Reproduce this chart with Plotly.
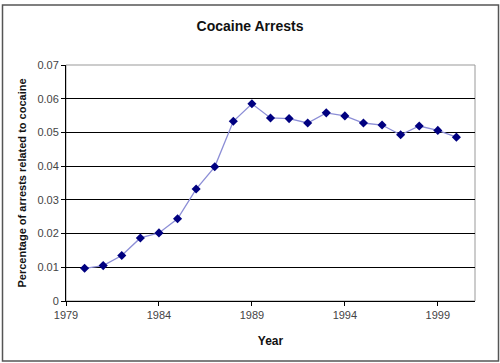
import plotly.graph_objects as go

years = [1980, 1981, 1982, 1983, 1984, 1985, 1986, 1987, 1988, 1989, 1990,
         1991, 1992, 1993, 1994, 1995, 1996, 1997, 1998, 1999, 2000]
share = [0.0097, 0.0105, 0.0135, 0.0187, 0.0202, 0.0244, 0.0332, 0.0398, 0.0533, 0.0585, 0.0543,
         0.0541, 0.0528, 0.0558, 0.0549, 0.0528, 0.0522, 0.0493, 0.0519, 0.0506, 0.0486]
x_ticks = [1979, 1984, 1989, 1994, 1999]

L, R, T, B = 66, 25, 65, 62
W, H = 500, 363
pw, ph = W - L - R, H - T - B

def px(x):
    return (x - L) / pw

def py(y):
    return (H - B - y) / ph

fig = go.Figure()
fig.add_trace(go.Scatter(
    x=years, y=share, mode="lines+markers",
    line=dict(color="#8c8ed6", width=1.3),
    marker=dict(symbol="diamond", size=7, color="#000080"),
    showlegend=False,
))

fig.update_layout(
    width=W, height=H,
    margin=dict(l=L, r=R, t=T, b=B, autoexpand=False),
    paper_bgcolor="white", plot_bgcolor="white",
    font=dict(family="Liberation Sans, Arial, sans-serif", color="#222"),
    title=dict(text="<b>Cocaine Arrests</b>", x=0.5, xanchor="center",
               y=1 - 26 / H, yanchor="middle", font=dict(size=14, color="#111")),
    xaxis=dict(range=[1979, 2001], tickvals=x_ticks, ticks="outside", ticklen=4,
               tickcolor="black", showline=True, linecolor="black", linewidth=1,
               showgrid=False, zeroline=False, tickfont=dict(size=11, color="#444"),
               automargin=False,
               title=dict(text="<b>Year</b>", font=dict(size=12, color="#111"), standoff=16)),
    yaxis=dict(range=[0, 0.07], dtick=0.01, ticks="outside", ticklen=4,
               tickcolor="black", showline=True, linecolor="black", linewidth=1,
               showgrid=True, gridcolor="black", gridwidth=1, zeroline=False,
               tickfont=dict(size=11, color="#444"), automargin=False,
               title=dict(text="<b>Percentage of arrests related to cocaine</b>",
                          font=dict(size=11, color="#111"), standoff=8)),
    shapes=[
        dict(type="rect", xref="paper", yref="paper", x0=0, x1=1, y0=0, y1=1,
             line=dict(color="#999", width=1), layer="below"),
        dict(type="rect", xref="paper", yref="paper", x0=px(2.5), x1=px(498.5),
             y0=py(361), y1=py(5), line=dict(color="#555", width=1.5), layer="above"),
    ],
)

fig.write_html(
    "out.html",
    config={"displayModeBar": False},
    post_script="document.body.style.margin='0';document.body.style.overflow='hidden';",
)
